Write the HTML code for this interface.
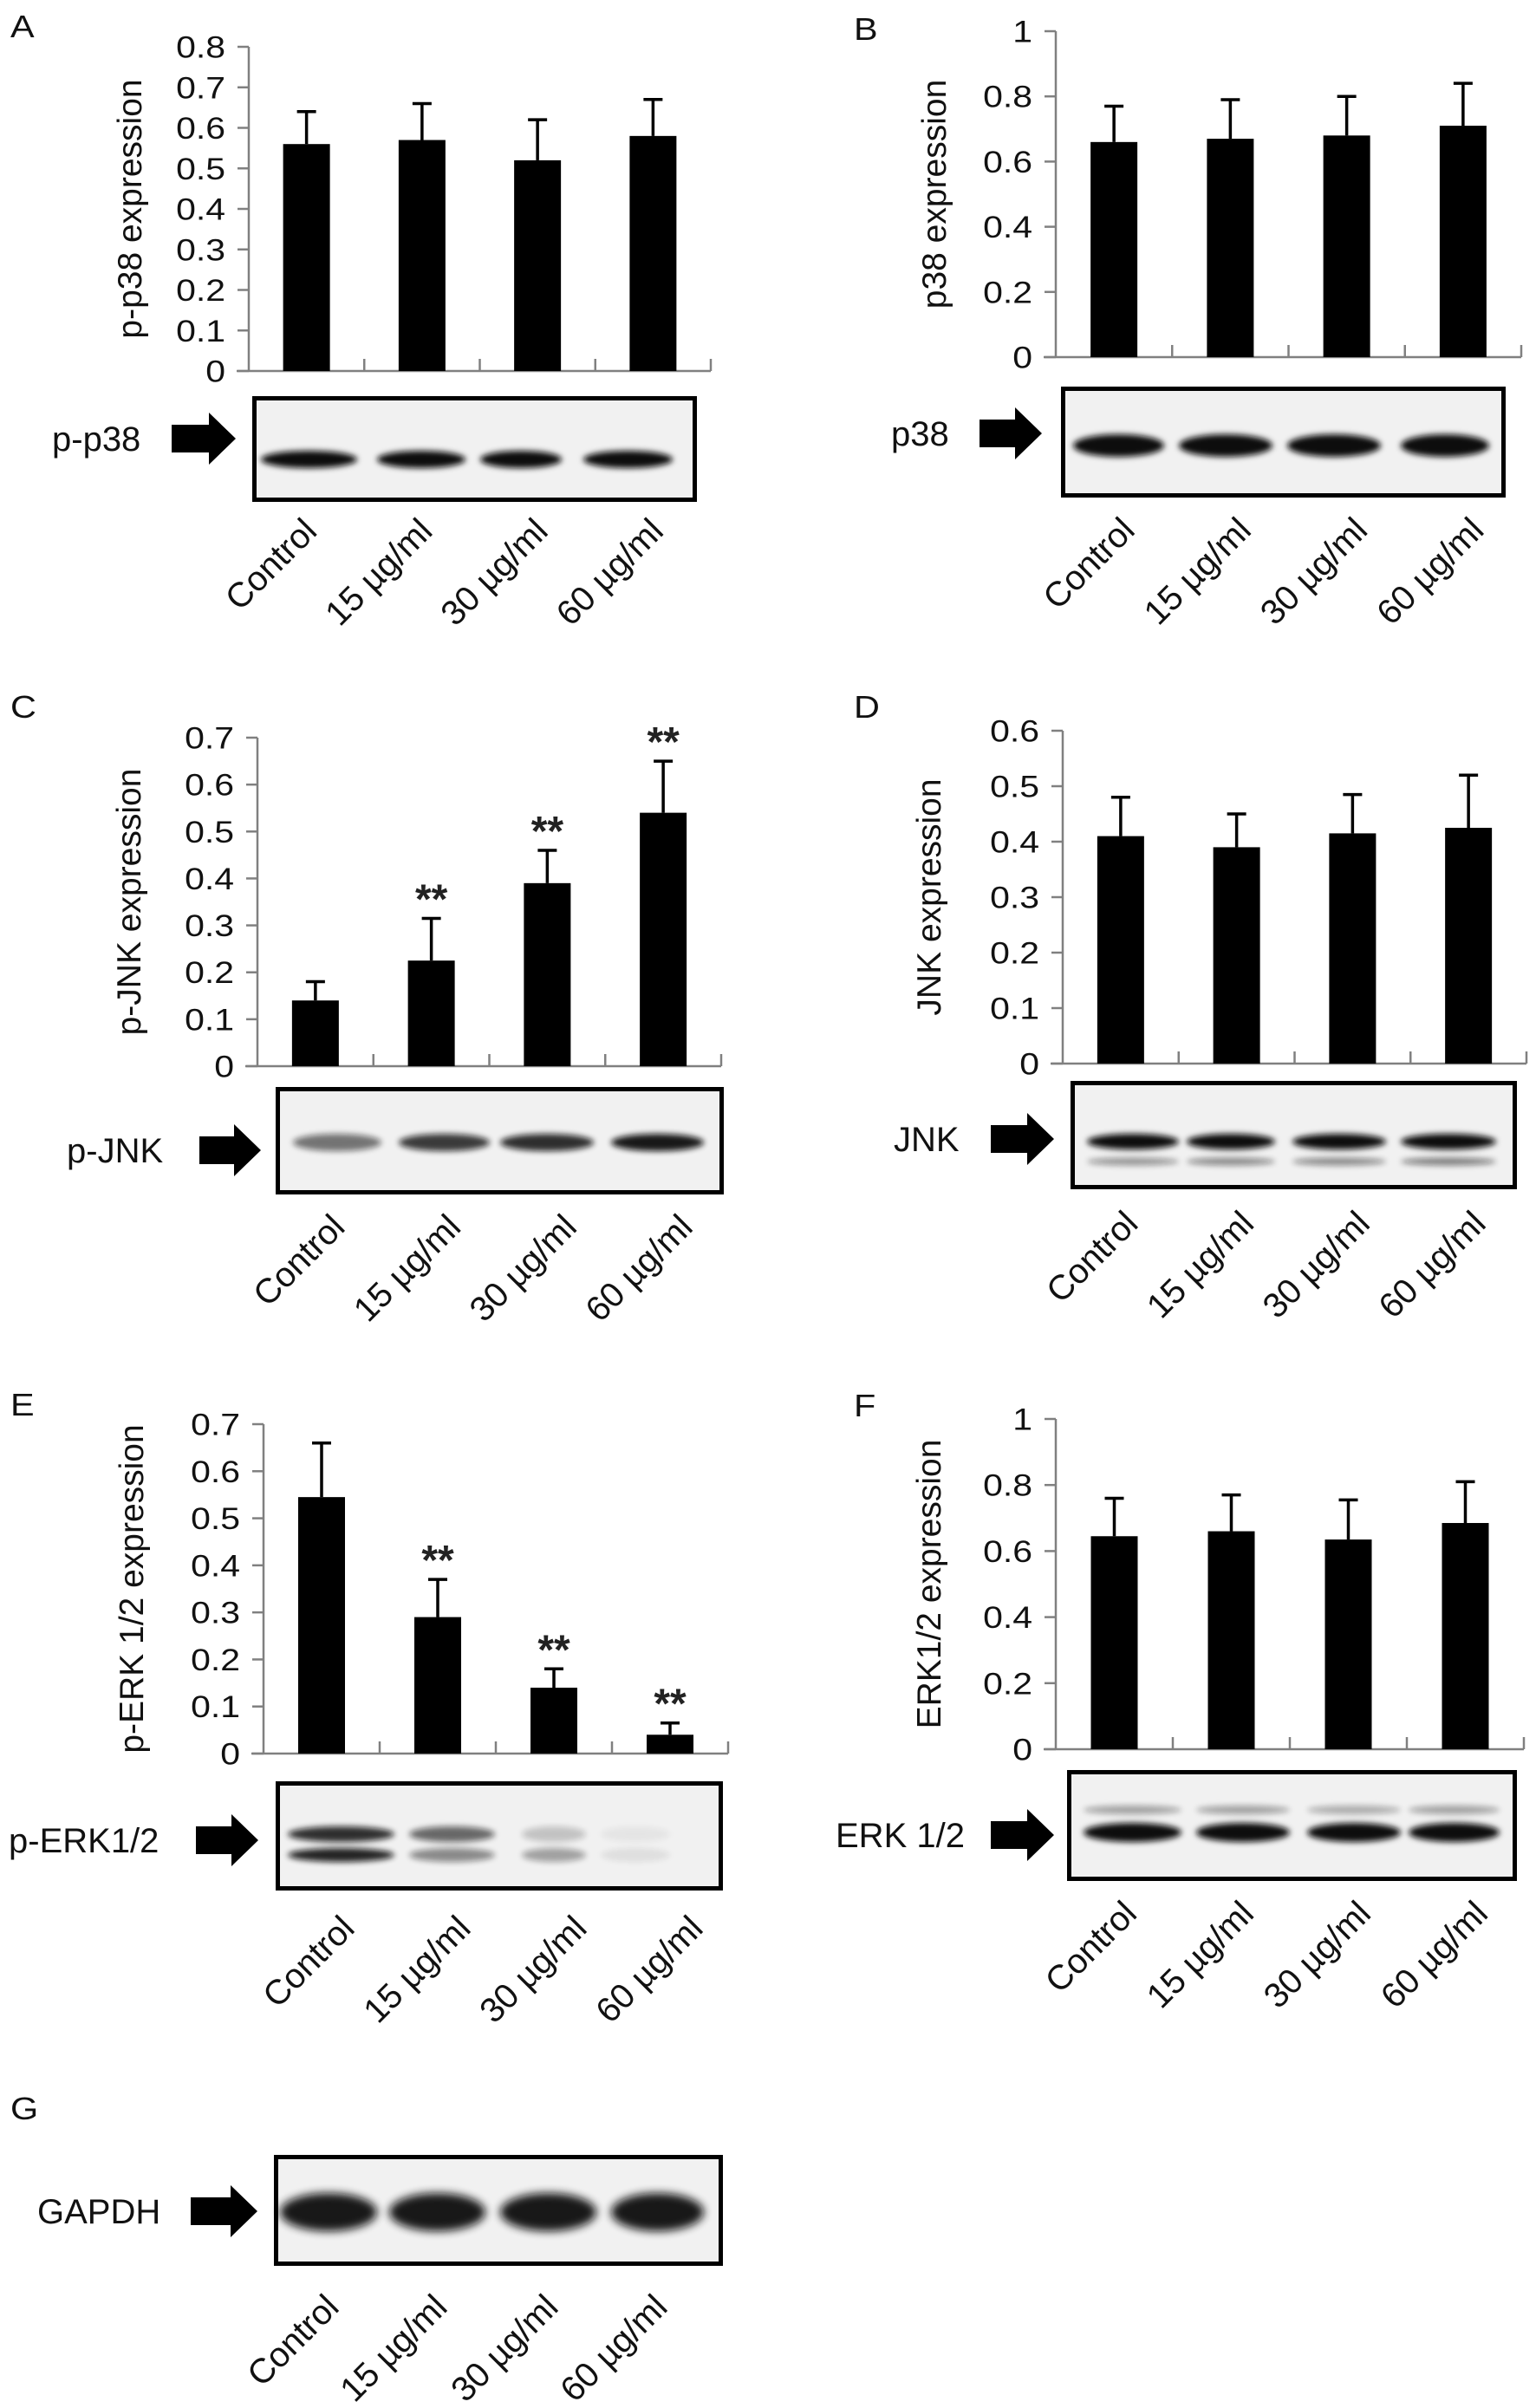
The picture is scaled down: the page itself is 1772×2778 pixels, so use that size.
<!DOCTYPE html>
<html><head><meta charset="utf-8">
<style>
html,body{margin:0;padding:0;background:#fff;}
svg{display:block;font-family:"Liberation Sans",Arial,sans-serif;}
</style></head>
<body>
<svg id="fig" xmlns="http://www.w3.org/2000/svg" width="1772" height="2778" viewBox="0 0 1772 2778">
<defs>
<filter id="blur3" x="-20%" y="-100%" width="140%" height="300%"><feGaussianBlur stdDeviation="3.5"/></filter>
<filter id="blur5" x="-20%" y="-100%" width="140%" height="300%"><feGaussianBlur stdDeviation="5"/></filter>
</defs>
</svg>
<script>
const categories = ["Control", "15 \u00b5g/ml", "30 \u00b5g/ml", "60 \u00b5g/ml"];
const pp38Values = [0.56, 0.57, 0.52, 0.58];
const pp38Errors = [0.64, 0.66, 0.62, 0.67];
const p38Values = [0.66, 0.67, 0.68, 0.71];
const p38Errors = [0.77, 0.79, 0.80, 0.84];
const pjnkValues = [0.14, 0.225, 0.39, 0.54];
const pjnkErrors = [0.18, 0.315, 0.46, 0.65];
const jnkValues = [0.41, 0.39, 0.415, 0.425];
const jnkErrors = [0.48, 0.45, 0.485, 0.52];
const perkValues = [0.545, 0.29, 0.14, 0.04];
const perkErrors = [0.66, 0.37, 0.18, 0.065];
const erkValues = [0.645, 0.66, 0.635, 0.685];
const erkErrors = [0.76, 0.77, 0.755, 0.81];
const ticks08 = ["0","0.1","0.2","0.3","0.4","0.5","0.6","0.7","0.8"];
const ticks07 = ["0","0.1","0.2","0.3","0.4","0.5","0.6","0.7"];
const ticks06 = ["0","0.1","0.2","0.3","0.4","0.5","0.6"];
const ticks10 = ["0","0.2","0.4","0.6","0.8","1"];
const pjnkSig = [false, true, true, true];
const perkSig = [false, true, true, true];
const noSig = [false, false, false, false];

const NS = "http://www.w3.org/2000/svg";
const svg = document.getElementById("fig");
function mk(tag, attrs, parent) {
  const e = document.createElementNS(NS, tag);
  for (const k in attrs) e.setAttribute(k, attrs[k]);
  (parent || svg).appendChild(e);
  return e;
}

function drawChart(p) {
  const g = mk("g", {});
  
  
  const max = parseFloat(p.ticks[p.ticks.length - 1]);
  const yS = v => p.zero - (v / max) * (p.zero - p.top);
  const cw = (p.end - p.ax) / categories.length;
  const xC = i => p.ax + (i + 0.5) * cw;
  const ya = mk("line", {x1: p.ax, y1: p.top, x2: p.ax, y2: p.zero, stroke: "#808080", "stroke-width": 2.5}, g);
  
  
  p.ticks.forEach(t => {
    const y = yS(parseFloat(t));
    mk("line", {x1: p.ax - 13, y1: y, x2: p.ax, y2: y, stroke: "#808080", "stroke-width": 2.5}, g);
    const tx = mk("text", {transform: `translate(${p.ax - 27},${y + 12.5}) scale(1.17,1)`, "text-anchor": "end", "font-size": 35, fill: "#111"}, g);
    tx.textContent = t;
    
    
  });
  const xa = mk("line", {x1: p.ax - 14, y1: p.zero, x2: p.end, y2: p.zero, stroke: "#808080", "stroke-width": 2.5}, g);
  
  
  for (let i = 1; i <= categories.length; i++) {
    const x = p.ax + i * cw;
    mk("line", {x1: x, y1: p.zero - 14, x2: x, y2: p.zero, stroke: "#808080", "stroke-width": 2.5}, g);
  }
  const tt = mk("text", {transform: `translate(${p.titleX},${(p.top + p.zero) / 2}) rotate(-90)`, "text-anchor": "middle", "font-size": 39, fill: "#111"}, g);
  tt.textContent = p.title;
  
  
  p.values.forEach((v, i) => {
    const x = xC(i);
    const eTop = yS(p.errors[i]);
    const el = mk("line", {x1: x, y1: eTop, x2: x, y2: yS(v), stroke: "#000", "stroke-width": 3.5}, g);
    
    
    mk("line", {x1: x - 11, y1: eTop, x2: x + 11, y2: eTop, stroke: "#000", "stroke-width": 3.5}, g);
    const b = mk("rect", {x: x - 27, y: yS(v), width: 54, height: p.zero - yS(v), fill: "#000"}, g);
    
    
    if (p.sig[i]) {
      const s = mk("text", {x: x, y: eTop - 6, "text-anchor": "middle", "font-size": 48, "font-weight": "bold", fill: "#222"}, g);
      s.textContent = "**";
      
      
    }
  });
}

function drawPanelLetter(ch, x, y) {
  const t = mk("text", {transform: `translate(${x},${y}) scale(1.15,1)`, "font-size": 36, fill: "#111"});
  t.textContent = ch;
  
  
}

function drawBlot(b) {
  const g = mk("g", {});
  
  
  mk("rect", {x: b.x0 + 3, y: b.y0 + 3, width: b.x1 - b.x0 - 6, height: b.y1 - b.y0 - 6, fill: "#f1f1f1"}, g);
  b.bands.forEach(bd => {
    b.lanes.forEach((ln, i) => {
      const op = bd.op[i];
      if (op <= 0) return;
      mk("ellipse", {cx: (ln[0] + ln[1]) / 2, cy: bd.y, rx: (ln[1] - ln[0]) / 2, ry: bd.h / 2, fill: "#111", opacity: op, filter: bd.h > 35 ? "url(#blur5)" : "url(#blur3)"}, g);
    });
  });
  const fr = mk("rect", {x: b.x0 + 2.5, y: b.y0 + 2.5, width: b.x1 - b.x0 - 5, height: b.y1 - b.y0 - 5, fill: "none", stroke: "#000", "stroke-width": 5}, g);
  
  
  const ax0 = b.arrow[0], ax1 = b.arrow[1], cy = b.arrow[2];
  const hx = ax1 - 31;
  const ar = mk("polygon", {points: `${ax0},${cy - 16} ${hx},${cy - 16} ${hx},${cy - 30} ${ax1},${cy} ${hx},${cy + 30} ${hx},${cy + 16} ${ax0},${cy + 16}`, fill: "#000"}, g);
  
  
  const lb = mk("text", {x: b.labelX, y: cy + 14, "font-size": 40, fill: "#111"}, g);
  lb.textContent = b.label;
  
  
  b.centers.forEach((cx, i) => {
    const t = mk("text", {transform: `translate(${cx + b.ldx},${b.y1 + b.ldy}) rotate(-45)`, "text-anchor": "end", "font-size": 40, fill: "#111"}, g);
    t.textContent = categories[i];
    
    
  });
}

function centersOf(ax, end) { const w = (end - ax) / 4; return [0,1,2,3].map(i => ax + (i + 0.5) * w); }

drawPanelLetter("A", 12, 43);
drawChart({name: "p-p38", ax: 287, end: 820, zero: 428, top: 54, ticks: ticks08, values: pp38Values, errors: pp38Errors, sig: noSig, title: "p-p38 expression", titleX: 163});
drawBlot({name: "p-p38", x0: 291, x1: 804, y0: 457, y1: 579, label: "p-p38", labelX: 60, arrow: [198, 272, 506],
  lanes: [[301,412],[435,537],[554,648],[673,776]], bands: [{y: 530, h: 20, op: [1,1,1,1]}],
  centers: centersOf(287, 820), ldx: 14, ldy: 36});
drawPanelLetter("B", 985, 46);
drawChart({name: "p38", ax: 1218, end: 1755, zero: 412, top: 36, ticks: ticks10, values: p38Values, errors: p38Errors, sig: noSig, title: "p38 expression", titleX: 1091});
drawBlot({name: "p38", x0: 1224, x1: 1737, y0: 446, y1: 574, label: "p38", labelX: 1028, arrow: [1130, 1202, 500],
  lanes: [[1238,1343],[1360,1468],[1485,1593],[1616,1718]], bands: [{y: 514, h: 26, op: [1,1,1,1]}],
  centers: centersOf(1218, 1755), ldx: 26, ldy: 40});
drawPanelLetter("C", 12, 828);
drawChart({name: "p-jnk", ax: 297, end: 832, zero: 1230, top: 851, ticks: ticks07, values: pjnkValues, errors: pjnkErrors, sig: pjnkSig, title: "p-JNK expression", titleX: 162});
drawBlot({name: "p-jnk", x0: 318, x1: 835, y0: 1254, y1: 1378, label: "p-JNK", labelX: 77, arrow: [230, 301, 1327],
  lanes: [[338,440],[460,565],[577,685],[705,812]], bands: [{y: 1318, h: 20, op: [0.55,0.8,0.85,0.95]}],
  centers: centersOf(297, 832), ldx: 36, ldy: 40});
drawPanelLetter("D", 985, 828);
drawChart({name: "jnk", ax: 1226, end: 1761, zero: 1227, top: 843, ticks: ticks06, values: jnkValues, errors: jnkErrors, sig: noSig, title: "JNK expression", titleX: 1085});
drawBlot({name: "jnk", x0: 1235, x1: 1750, y0: 1247, y1: 1372, label: "JNK", labelX: 1031, arrow: [1143, 1216, 1314],
  lanes: [[1254,1360],[1369,1471],[1491,1599],[1616,1726]], bands: [{y: 1317, h: 18, op: [1,1,1,1]},{y: 1340, h: 9, op: [0.4,0.45,0.45,0.5]}],
  centers: centersOf(1226, 1761), ldx: 22, ldy: 42});
drawPanelLetter("E", 12, 1633);
drawChart({name: "p-erk", ax: 304, end: 840, zero: 2023, top: 1643, ticks: ticks07, values: perkValues, errors: perkErrors, sig: perkSig, title: "p-ERK 1/2 expression", titleX: 165});
drawBlot({name: "p-erk", x0: 318, x1: 834, y0: 2055, y1: 2181, label: "p-ERK1/2", labelX: 10, arrow: [226, 298, 2123],
  lanes: [[332,455],[472,571],[602,676],[693,773]], bands: [{y: 2116, h: 18, op: [0.85,0.6,0.2,0.05]},{y: 2140, h: 16, op: [0.9,0.45,0.35,0.08]}],
  centers: centersOf(304, 840), ldx: 40, ldy: 46});
drawPanelLetter("F", 985, 1634);
drawChart({name: "erk", ax: 1218, end: 1758, zero: 2018, top: 1637, ticks: ticks10, values: erkValues, errors: erkErrors, sig: noSig, title: "ERK1/2 expression", titleX: 1085});
drawBlot({name: "erk", x0: 1231, x1: 1750, y0: 2042, y1: 2170, label: "ERK 1/2", labelX: 964, arrow: [1143, 1216, 2117],
  lanes: [[1250,1363],[1380,1488],[1508,1616],[1625,1730]], bands: [{y: 2088, h: 10, op: [0.35,0.35,0.3,0.35]},{y: 2114, h: 22, op: [1,1,1,1]}],
  centers: centersOf(1218, 1758), ldx: 28, ldy: 40});
drawPanelLetter("G", 12, 2445);
drawBlot({name: "gapdh", x0: 316, x1: 834, y0: 2486, y1: 2614, label: "GAPDH", labelX: 43, arrow: [220, 297, 2551],
  lanes: [[323,435],[449,560],[577,688],[705,812]], bands: [{y: 2552, h: 44, op: [0.95,0.95,0.95,0.95]}],
  centers: [379, 504, 632, 758], ldx: 14, ldy: 50});
</script>
</body></html>
